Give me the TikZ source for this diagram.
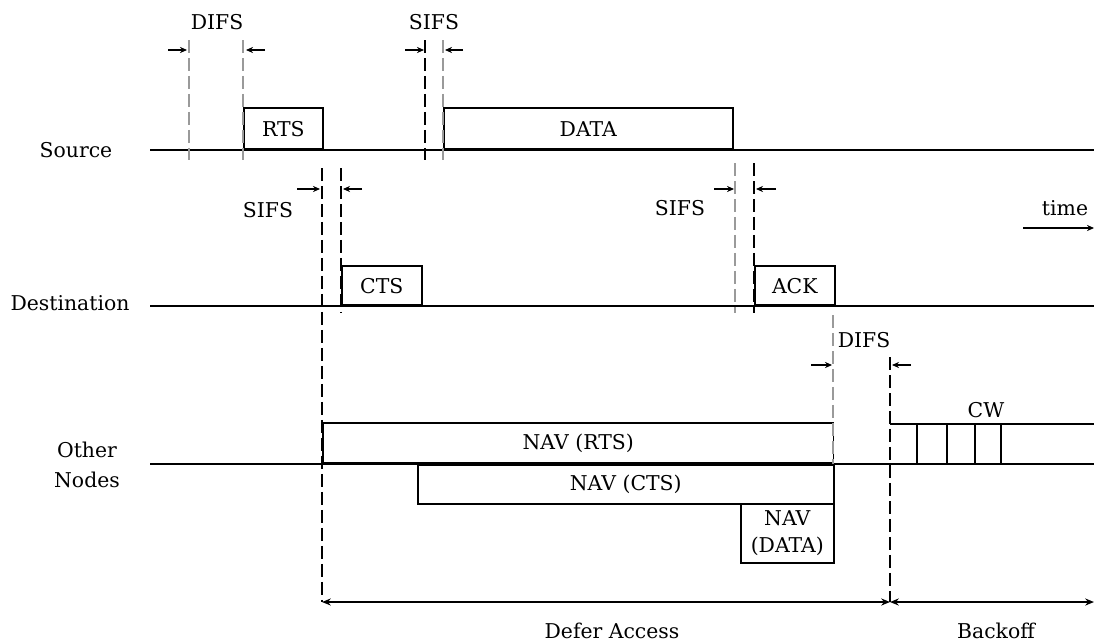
\documentclass[tikz,border=0pt]{standalone}
\usepackage{fontspec}
\setmainfont{DejaVu Serif}
\usetikzlibrary{arrows.meta,positioning,calc}
\definecolor{ifsgray}{HTML}{9A9A9A}
\tikzset{
  lane/.style={line width=1pt},
  lbl/.style={font=\fontsize{11.6}{14}\selectfont, inner sep=0pt, align=center},
  pkt/.style={draw, line width=0.9pt, inner sep=0pt, font=\fontsize{11.6}{14}\selectfont, align=center},
  ifsline/.style={line width=1pt, dash pattern=on 0.26cm off 0.1cm},
  ifsfaint/.style={ifsline, draw=ifsgray},
  gaparrow/.style={-{Stealth[length=4pt,width=3.5pt]}, line width=0.6pt},
  spanarrow/.style={{Stealth[length=5pt,width=4pt]}-{Stealth[length=5pt,width=4pt]}, line width=1pt},
}
\begin{document}
\begin{tikzpicture}[x=0.02cm,y=-0.02cm]
  \useasboundingbox (0,0) rectangle (1094,643);
  % the three stations
  \node[lbl] (src) at (76,150) {Source};
  \node[lbl] (dst) at (70,303) {Destination};
  \node[lbl, font=\fontsize{11.6}{17}\selectfont] (oth) at (87,465) {Other\\Nodes};
  \foreach \nm/\yy in {srcl/150, dstl/306, othl/464} {
    \coordinate (\nm-a) at (150,\yy);
    \coordinate (\nm-b) at (1094,\yy);
    \draw[lane] (\nm-a) -- (\nm-b);
  }
  % frames on the air
  \node[pkt, anchor=south west, minimum width=1.58cm, minimum height=0.82cm] (rts) at (243,150) {RTS};
  \node[pkt, anchor=south west, minimum width=5.78cm, minimum height=0.82cm] (data) at (443,150) {DATA};
  \node[pkt, anchor=south west, minimum width=1.6cm, minimum height=0.78cm] (cts) at (341,306) {CTS};
  \node[pkt, anchor=south west, minimum width=1.6cm, minimum height=0.78cm] (ack) at (754,306) {ACK};
  \node[pkt, anchor=south west, minimum width=10.22cm, minimum height=0.8cm] (navrts) at (322,464) {NAV (RTS)};
  \node[pkt, anchor=north west, minimum width=8.32cm, minimum height=0.78cm] (navcts) at (417,464) {NAV (CTS)};
  \node[pkt, anchor=north west, minimum width=1.86cm, minimum height=1.18cm,
        font=\fontsize{11.6}{15}\selectfont] (navdata) at (740,503) {NAV\\(DATA)};
  % contention window
  \coordinate (cw-a) at (890,424);
  \coordinate (cw-b) at (1094,424);
  \draw[line width=0.9pt] (cw-a) -- (cw-b);
  \foreach \s in {917,947,975,1001}
    \draw[line width=0.9pt] (\s,424) -- (\s,464);
  \node[lbl] (cw) at (986,410) {CW};
  % interframe spaces
  \foreach \nm/\xx/\ya/\yb/\sty in {difsa/189/40/160/ifsfaint, difsb/243/40/160/ifsfaint,
      sifsa/425/40/160/ifsline, sifsb/443/40/160/ifsfaint,
      sifsc/322/168/602/ifsline, sifsd/341/168/313/ifsline,
      sifse/735/163/313/ifsfaint, sifsf/754/163/313/ifsline,
      difsc/833/315/464/ifsfaint, difsd/890/357/602/ifsline} {
    \coordinate (\nm-t) at (\xx,\ya);
    \coordinate (\nm-b) at (\xx,\yb);
    \draw[\sty] (\nm-t) -- (\nm-b);
  }
  \foreach \xa/\xb/\yy in {168/187/50, 265/246/50, 405/424/50, 463/445/50,
      297/320/189, 362/343/189, 714/734/189, 776/756/189,
      811/832/365, 911/892/365}
    \draw[gaparrow] (\xa,\yy) -- (\xb,\yy);
  \node[lbl] (difs1) at (217,22) {DIFS};
  \node[lbl] (sifs1) at (434,22) {SIFS};
  \node[lbl] (sifs2) at (268,210) {SIFS};
  \node[lbl] (sifs3) at (680,208) {SIFS};
  \node[lbl] (difs2) at (864,340) {DIFS};
  % time axis hint
  \node[lbl] (time) at (1065,208) {time};
  \coordinate (time-a) at (1023,228);
  \coordinate (time-b) at (1094,228);
  \draw[gaparrow] (time-a) -- (time-b);
  % defer / backoff spans
  \coordinate (span-r) at (1094,602);
  \draw[spanarrow] (sifsc-b) -- (difsd-b);
  \draw[spanarrow] (difsd-b) -- (span-r);
  \node[lbl] (defer) at (612,631) {Defer Access};
  \node[lbl] (backoff) at (996,631) {Backoff};
\end{tikzpicture}
\end{document}
